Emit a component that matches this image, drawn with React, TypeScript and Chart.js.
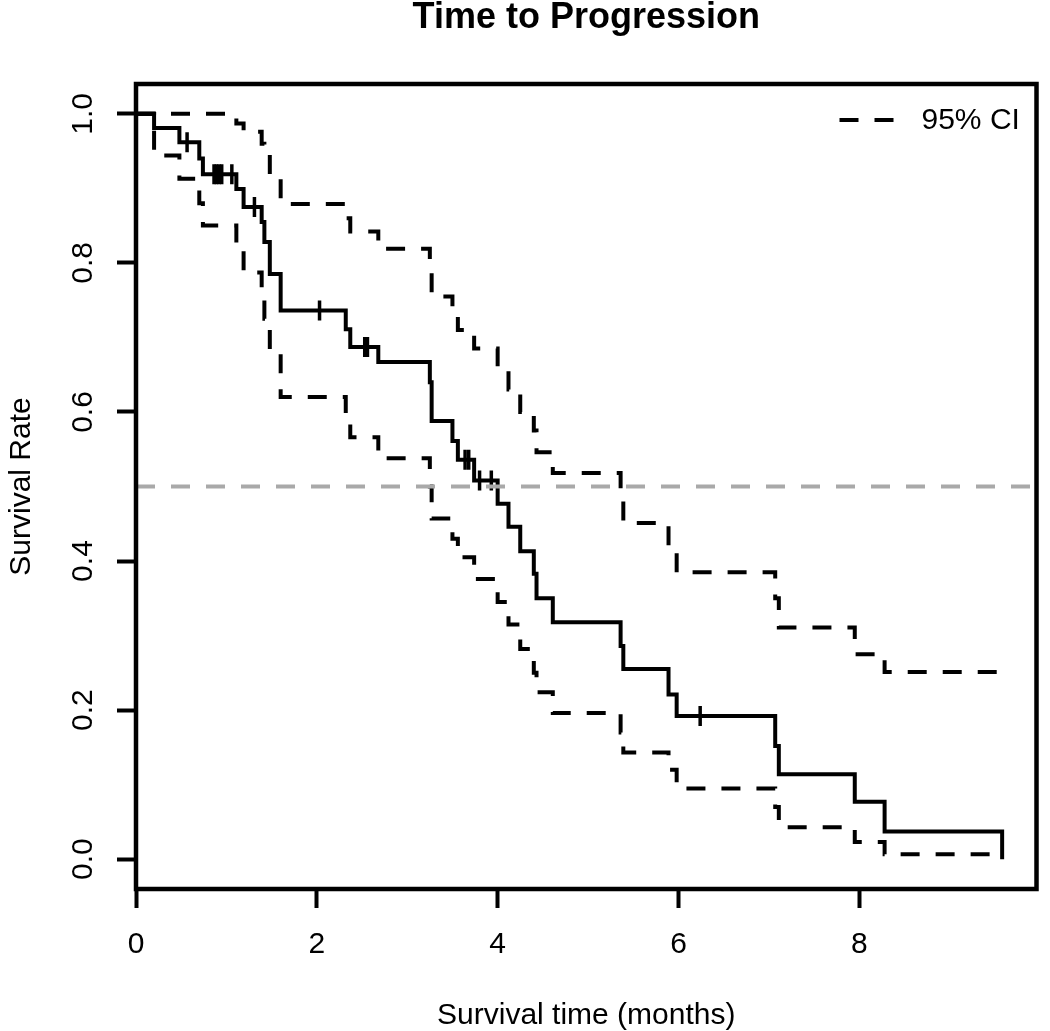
import React, { useEffect, useRef } from "react";
import { Chart, registerables } from "chart.js";

Chart.register(...registerables);

// ---------- data ----------
const KM_TIMES = [0, 0.2, 0.48, 0.7, 0.74, 1.11, 1.19, 1.39, 1.42, 1.48, 1.6, 2.32, 2.37, 2.68, 3.25, 3.27, 3.5, 3.56, 3.74, 4.0, 4.12, 4.25, 4.4, 4.43, 4.61, 5.36, 5.39, 5.89, 5.98, 7.07, 7.11, 7.95, 8.28, 9.58];
const KM_SURV = [1.0, 0.981, 0.962, 0.94, 0.919, 0.899, 0.875, 0.855, 0.828, 0.785, 0.736, 0.711, 0.687, 0.667, 0.64, 0.588, 0.561, 0.536, 0.508, 0.477, 0.446, 0.413, 0.383, 0.35, 0.318, 0.286, 0.255, 0.221, 0.192, 0.152, 0.114, 0.077, 0.037, 0.0];
const CI_UPPER = [1.0, 1.0, 1.0, 1.0, 1.0, 0.987, 0.976, 0.96, 0.945, 0.915, 0.879, 0.86, 0.842, 0.819, 0.79, 0.755, 0.73, 0.71, 0.685, 0.655, 0.63, 0.6, 0.575, 0.546, 0.518, 0.485, 0.451, 0.42, 0.385, 0.35, 0.311, 0.275, 0.251, 0.251];
const CI_LOWER = [1.0, 0.944, 0.913, 0.88, 0.85, 0.822, 0.787, 0.76, 0.725, 0.68, 0.62, 0.585, 0.566, 0.538, 0.5, 0.457, 0.43, 0.405, 0.376, 0.345, 0.315, 0.282, 0.25, 0.224, 0.196, 0.17, 0.143, 0.12, 0.095, 0.07, 0.043, 0.023, 0.0067, 0.0067];
const CENSOR_TIMES = [0.565, 0.863, 0.889, 0.918, 0.948, 1.06, 1.31, 2.03, 2.53, 2.56, 3.64, 3.68, 3.8, 3.93, 6.24];
const CENSOR_SURV = [0.962, 0.919, 0.919, 0.919, 0.919, 0.919, 0.875, 0.736, 0.687, 0.687, 0.536, 0.536, 0.508, 0.508, 0.192];
const MEDIAN_REF = 0.5;
const X_TICKS = [0, 2, 4, 6, 8];
const Y_TICKS = [0, 0.2, 0.4, 0.6, 0.8, 1.0];
const X_RANGE = [0, 9.96];
const Y_RANGE = [-0.04, 1.04];
const TITLE = "Time to Progression";
const X_LABEL = "Survival time (months)";
const Y_LABEL = "Survival Rate";
const LEGEND_LABEL = "95% CI";

const FONT = "'Liberation Sans', Arial, Helvetica, sans-serif";
const DASH = [19, 16];

const decorations = {
  id: "decorations",
  afterDraw(chart: any) {
    const { ctx, chartArea: ca } = chart;
    const cx = (ca.left + ca.right) / 2;
    const cy = (ca.top + ca.bottom) / 2;
    ctx.save();
    // box
    ctx.setLineDash([]);
    ctx.strokeStyle = "#000";
    ctx.lineWidth = 4.5;
    ctx.strokeRect(ca.left, ca.top, ca.right - ca.left, ca.bottom - ca.top);
    // title
    ctx.fillStyle = "#000";
    ctx.font = `bold 36px ${FONT}`;
    ctx.textAlign = "center";
    ctx.textBaseline = "alphabetic";
    ctx.fillText(TITLE, cx, 28);
    // x label
    ctx.font = `30px ${FONT}`;
    ctx.textBaseline = "middle";
    ctx.fillText(X_LABEL, cx, 1016);
    // legend
    const ly = ca.top + 36;
    ctx.strokeStyle = "#000";
    ctx.lineWidth = 4;
    ctx.setLineDash(DASH);
    ctx.beginPath();
    ctx.moveTo(ca.right - 197, ly);
    ctx.lineTo(ca.right - 140, ly);
    ctx.stroke();
    ctx.setLineDash([]);
    ctx.textAlign = "left";
    ctx.fillText(LEGEND_LABEL, ca.right - 115, ly + 1);
    // y label
    ctx.translate(22, cy);
    ctx.rotate(-Math.PI / 2);
    ctx.textAlign = "center";
    ctx.fillText(Y_LABEL, 0, 0);
    ctx.restore();
  },
};

export default function App() {
  const ref = useRef<HTMLCanvasElement | null>(null);
  useEffect(() => {
    if (!ref.current) return;
    const pts = (xs: number[], ys: number[]) => xs.map((x, i) => ({ x, y: ys[i] }));
    const chart = new Chart(ref.current, {
      type: "line",
      data: {
        datasets: [
          {
            label: "median",
            data: [
              { x: X_RANGE[0], y: MEDIAN_REF },
              { x: X_RANGE[1], y: MEDIAN_REF },
            ],
            borderColor: "#a9a9a9",
            borderWidth: 4,
            borderDash: DASH,
            pointRadius: 0,
            order: 0,
          },
          {
            label: "censored",
            data: pts(CENSOR_TIMES, CENSOR_SURV),
            showLine: false,
            pointStyle: "line",
            rotation: 90,
            pointRadius: 10,
            borderWidth: 3.5,
            borderColor: "#000",
            backgroundColor: "#000",
            order: 1,
          },
          {
            label: "KM",
            data: pts(KM_TIMES, KM_SURV),
            stepped: true,
            borderColor: "#000",
            borderWidth: 4,
            pointRadius: 0,
            order: 2,
          },
          {
            label: "upper",
            data: pts(KM_TIMES, CI_UPPER),
            stepped: true,
            borderColor: "#000",
            borderWidth: 4,
            borderDash: DASH,
            pointRadius: 0,
            order: 3,
          },
          {
            label: "lower",
            data: pts(KM_TIMES, CI_LOWER),
            stepped: true,
            borderColor: "#000",
            borderWidth: 4,
            borderDash: DASH,
            pointRadius: 0,
            order: 4,
          },
        ],
      },
      options: {
        animation: false,
        responsive: false,
        devicePixelRatio: 1,
        layout: { padding: { top: 84, right: 3, left: 0, bottom: 0 } },
        plugins: { legend: { display: false }, tooltip: { enabled: false }, title: { display: false } },
        scales: {
          x: {
            type: "linear",
            min: X_RANGE[0],
            max: X_RANGE[1],
            afterBuildTicks: (s: any) => {
              s.ticks = X_TICKS.map((v) => ({ value: v }));
            },
            afterFit: (s: any) => {
              s.height = 142;
            },
            ticks: {
              callback: (v: any) => String(v),
              color: "#000",
              font: { size: 30, family: FONT },
              padding: 19,
              maxRotation: 0,
              autoSkip: false,
            },
            grid: { drawOnChartArea: false, drawTicks: true, tickLength: 19, tickWidth: 4, tickColor: "#000" },
            border: { display: false },
          },
          y: {
            type: "linear",
            min: Y_RANGE[0],
            max: Y_RANGE[1],
            afterBuildTicks: (s: any) => {
              s.ticks = Y_TICKS.map((v) => ({ value: v }));
            },
            afterFit: (s: any) => {
              s.width = 136;
            },
            ticks: {
              callback: (v: any) => Number(v).toFixed(1),
              color: "#000",
              font: { size: 30, family: FONT },
              padding: 12,
              minRotation: 90,
              maxRotation: 90,
              crossAlign: "center",
              autoSkip: false,
            },
            grid: { drawOnChartArea: false, drawTicks: true, tickLength: 19, tickWidth: 4, tickColor: "#000" },
            border: { display: false },
          },
        },
      },
      plugins: [decorations],
    } as any);
    return () => chart.destroy();
  }, []);
  return (
    <div style={{ position: "absolute", left: 0, top: 0, width: 1050, height: 1031, background: "#fff" }}>
      <canvas ref={ref} width={1050} height={1031} style={{ width: 1050, height: 1031, display: "block" }} />
    </div>
  );
}
